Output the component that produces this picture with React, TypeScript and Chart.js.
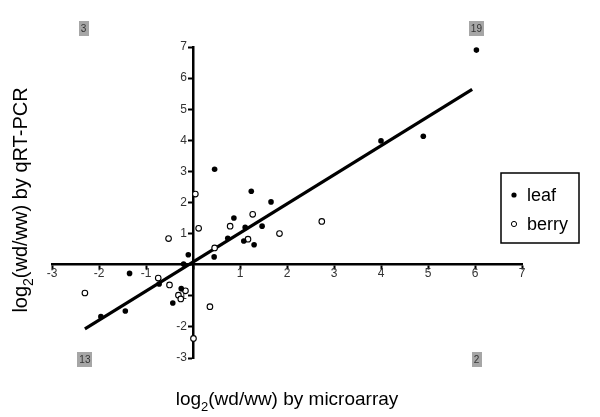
import React, { useEffect, useRef } from "react";
import { Chart, registerables } from "chart.js";

Chart.register(...registerables);

// ---- data ----
const leafX = [0.46, 1.24, 1.66, 0.87, 1.11, 1.47, 0.74, 1.08, 1.3, 0.45, -0.1, -0.2, -1.35, -0.72, -0.25, -0.43, -1.44, -1.96, 4.0, 4.9, 6.03];
const leafY = [3.07, 2.36, 2.02, 1.5, 1.2, 1.24, 0.85, 0.76, 0.64, 0.25, 0.32, 0.02, -0.28, -0.62, -0.77, -1.23, -1.49, -1.67, 3.98, 4.13, 6.9];
const berryX = [0.05, 0.12, 0.79, 1.27, 1.84, 2.74, 1.17, 0.46, -0.52, -0.74, -0.5, -2.3, -0.31, -0.16, -0.26, 0.36, 0.01];
const berryY = [2.27, 1.17, 1.24, 1.62, 1.0, 1.39, 0.82, 0.54, 0.84, -0.43, -0.65, -0.91, -0.98, -0.84, -1.1, -1.35, -2.37];
const fitX = [-2.3, 5.94];
const fitY = [-2.06, 5.64];
const seriesLabels = ["leaf", "berry"];
const quadrantCounts = ["3", "19", "13", "2"]; // upper-left, upper-right, lower-left, lower-right
const axisMin = -3;
const axisMax = 7;
const xTitleParts = ["log", "2", "(wd/ww) by microarray"];
const yTitleParts = ["log", "2", "(wd/ww) by qRT-PCR"];

const FONT = "'Liberation Sans', Arial, Helvetica, sans-serif";

const toPts = (xs: number[], ys: number[]) => xs.map((x, i) => ({ x, y: ys[i] }));

function drawSubTitle(ctx: CanvasRenderingContext2D, parts: string[], size: number, subSize: number, subDy: number) {
  ctx.font = `${size}px ${FONT}`;
  const w0 = ctx.measureText(parts[0]).width;
  const w2 = ctx.measureText(parts[2]).width;
  ctx.font = `${subSize}px ${FONT}`;
  const w1 = ctx.measureText(parts[1]).width;
  const total = w0 + w1 + w2;
  let x = -total / 2;
  ctx.textAlign = "left";
  ctx.textBaseline = "alphabetic";
  ctx.font = `${size}px ${FONT}`;
  ctx.fillText(parts[0], x, 0);
  x += w0;
  ctx.font = `${subSize}px ${FONT}`;
  ctx.fillText(parts[1], x, subDy);
  x += w1;
  ctx.font = `${size}px ${FONT}`;
  ctx.fillText(parts[2], x, 0);
}

const decorPlugin = {
  id: "decor",
  afterDraw(chart: any) {
    const ctx: CanvasRenderingContext2D = chart.ctx;
    const ca = chart.chartArea;
    const xs = chart.scales.x;
    const ys = chart.scales.y;
    ctx.save();
    ctx.fillStyle = "#000";
    // x title
    ctx.save();
    ctx.translate((ca.left + ca.right) / 2, 405);
    drawSubTitle(ctx, xTitleParts, 19, 13, 6);
    ctx.restore();
    // y title
    ctx.save();
    ctx.translate(27, 200);
    ctx.rotate(-Math.PI / 2);
    drawSubTitle(ctx, yTitleParts, 20, 14, 6);
    ctx.restore();

    // quadrant count boxes
    const qPos = [
      [xs.getPixelForValue(-2.33), ys.getPixelForValue(7.6)],
      [xs.getPixelForValue(6.03), ys.getPixelForValue(7.6)],
      [xs.getPixelForValue(-2.3), ys.getPixelForValue(-3.05)],
      [xs.getPixelForValue(6.03), ys.getPixelForValue(-3.05)],
    ];
    ctx.font = `10px ${FONT}`;
    ctx.textAlign = "center";
    ctx.textBaseline = "middle";
    quadrantCounts.forEach((t, i) => {
      const w = ctx.measureText(t).width + 4;
      const h = 15;
      const [cx, cy] = qPos[i];
      ctx.fillStyle = "#a6a6a6";
      ctx.fillRect(Math.round(cx - w / 2), Math.round(cy - h / 2), Math.round(w), h);
      ctx.fillStyle = "#333";
      ctx.fillText(t, cx, cy + 0.5);
    });

    // legend
    const bx = 501, by = 173, bw = 78, bh = 70;
    ctx.strokeStyle = "#000";
    ctx.lineWidth = 1.5;
    ctx.strokeRect(bx, by, bw, bh);
    ctx.font = `18px ${FONT}`;
    ctx.textAlign = "left";
    ctx.textBaseline = "alphabetic";
    ctx.fillStyle = "#000";
    ctx.beginPath();
    ctx.arc(514, 195, 2.6, 0, Math.PI * 2);
    ctx.fill();
    ctx.fillText(seriesLabels[0], 527, 201);
    ctx.beginPath();
    ctx.arc(514, 224, 2.6, 0, Math.PI * 2);
    ctx.fillStyle = "#fff";
    ctx.fill();
    ctx.lineWidth = 1;
    ctx.stroke();
    ctx.fillStyle = "#000";
    ctx.fillText(seriesLabels[1], 527, 230);
    ctx.restore();
  },
};

export default function App() {
  const ref = useRef<HTMLCanvasElement | null>(null);
  useEffect(() => {
    if (!ref.current) return;
    const grid = {
      display: true,
      drawOnChartArea: false,
      drawTicks: true,
      tickLength: 4,
      tickWidth: 2,
      tickColor: "#000",
    };
    const border = { display: true, color: "#000", width: 2.5 };
    const tickFont = { family: FONT, size: 12 };
    const chart = new Chart(ref.current, {
      type: "scatter",
      data: {
        datasets: [
          {
            label: seriesLabels[0],
            data: toPts(leafX, leafY),
            pointRadius: 2.8,
            pointBackgroundColor: "#000",
            pointBorderColor: "#000",
            pointBorderWidth: 0,
          },
          {
            label: seriesLabels[1],
            data: toPts(berryX, berryY),
            pointRadius: 2.8,
            pointBackgroundColor: "#fff",
            pointBorderColor: "#000",
            pointBorderWidth: 1.1,
          },
          {
            type: "line",
            label: "fit",
            data: toPts(fitX, fitY),
            borderColor: "#000",
            borderWidth: 3.2,
            pointRadius: 0,
            showLine: true,
            fill: false,
          } as any,
        ],
      },
      options: {
        animation: false,
        responsive: false,
        devicePixelRatio: 1,
        layout: { padding: { left: 52, right: 78, top: 47, bottom: 59 } },
        plugins: { legend: { display: false }, tooltip: { enabled: false }, title: { display: false } },
        scales: {
          x: {
            type: "linear",
            min: axisMin,
            max: axisMax,
            position: { y: 0 },
            grid,
            border,
            ticks: {
              stepSize: 1,
              autoSkip: false,
              maxRotation: 0,
              color: "#333",
              font: tickFont,
              padding: -2,
              callback: (v: any) => (Number(v) === 0 ? "" : String(v)),
            },
          } as any,
          y: {
            type: "linear",
            min: axisMin,
            max: axisMax,
            position: { x: 0 },
            grid,
            border,
            ticks: {
              stepSize: 1,
              autoSkip: false,
              color: "#333",
              font: tickFont,
              callback: (v: any) => (Number(v) === 0 ? "" : String(v) + "\u2002"),
            },
          } as any,
        },
      },
      plugins: [decorPlugin],
    });
    return () => chart.destroy();
  }, []);
  return (
    <div style={{ position: "absolute", left: 0, top: 0, width: 600, height: 417, background: "#fff" }}>
      <canvas ref={ref} width={600} height={417} />
    </div>
  );
}
